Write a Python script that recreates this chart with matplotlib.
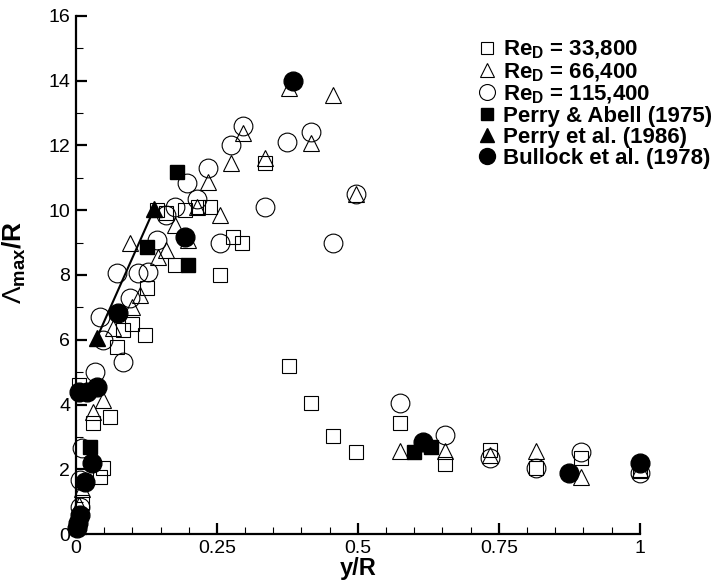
import numpy as np
import matplotlib
matplotlib.use("Agg")
import matplotlib.pyplot as plt
from matplotlib.ticker import MultipleLocator, FixedFormatter, FixedLocator

plt.rcParams['font.family'] = ['Liberation Sans', 'DejaVu Sans']
plt.rcParams['mathtext.fontset'] = 'custom'
plt.rcParams['mathtext.rm'] = 'Liberation Sans'
plt.rcParams['mathtext.bf'] = 'Liberation Sans:bold'
plt.rcParams['mathtext.it'] = 'Liberation Sans:italic'

# ---- data ----
# Re_D = 33,800 (open squares)
re1_x = [0.005, 0.01, 0.03, 0.043, 0.048, 0.06, 0.072, 0.084, 0.099, 0.123, 0.126,
         0.144, 0.16, 0.176, 0.194, 0.217, 0.238, 0.256, 0.279, 0.295, 0.336, 0.377,
         0.416, 0.455, 0.496, 0.575, 0.655, 0.735, 0.815, 0.895, 1.0]
re1_y = [4.6, 1.0, 3.42, 1.76, 2.03, 3.6, 5.78, 6.3, 6.5, 6.14, 7.6,
         10.0, 9.9, 8.3, 10.0, 10.1, 10.1, 8.0, 9.17, 9.0, 11.45, 5.2,
         4.04, 3.02, 2.53, 3.43, 2.16, 2.6, 2.04, 2.35, 1.95]

# Re_D = 66,400 (open triangles)
re2_x = [0.005, 0.01, 0.03, 0.048, 0.066, 0.096, 0.1, 0.114, 0.146, 0.16, 0.176,
         0.199, 0.215, 0.234, 0.256, 0.275, 0.296, 0.336, 0.377, 0.416, 0.455,
         0.496, 0.575, 0.655, 0.735, 0.815, 0.895, 1.0]
re2_y = [0.9, 1.4, 3.77, 4.13, 6.35, 8.98, 7.0, 7.38, 8.55, 8.77, 9.54,
         9.07, 10.1, 10.86, 9.85, 11.45, 12.37, 11.6, 13.76, 12.06, 13.55,
         10.5, 2.55, 2.55, 2.45, 2.55, 1.76, 2.0]

# Re_D = 115,400 (open circles)
re3_x = [0.007, 0.007, 0.01, 0.034, 0.043, 0.048, 0.073, 0.084, 0.096, 0.11, 0.128,
         0.144, 0.16, 0.176, 0.197, 0.215, 0.234, 0.256, 0.275, 0.296, 0.336,
         0.375, 0.416, 0.456, 0.496, 0.575, 0.655, 0.735, 0.815, 0.895, 1.0]
re3_y = [0.83, 1.67, 2.65, 5.0, 6.7, 6.0, 8.05, 5.3, 7.28, 8.05, 8.1,
         9.07, 9.85, 10.1, 10.83, 10.35, 11.3, 9.0, 12.0, 12.6, 10.1,
         12.1, 12.4, 9.0, 10.5, 4.04, 3.05, 2.35, 2.04, 2.53, 1.9]

# Perry & Abell (1975)
pa_x = [0.025, 0.126, 0.179, 0.199, 0.6, 0.629]
pa_y = [2.7, 8.86, 11.17, 8.3, 2.53, 2.69]

# Perry et al. (1986)
pe_x = [0.037, 0.139]
pe_y = [6.05, 10.05]

# Bullock et al. (1978)
bu_x = [0.002, 0.004, 0.007, 0.016, 0.028, 0.005, 0.02, 0.037, 0.075, 0.194,
        0.385, 0.615, 0.874, 1.0]
bu_y = [0.2, 0.35, 0.6, 1.6, 2.19, 4.4, 4.4, 4.54, 6.82, 9.17,
        14.0, 2.84, 1.88, 2.19]

fig = plt.figure(figsize=(7.23, 5.85), dpi=100)
ax = fig.add_axes([0.105, 0.087, 0.78, 0.886])

ew = 0.8
ax.plot(re1_x, re1_y, ls='none', marker='s', ms=9.5, mfc='none', mec='black', mew=ew,
        clip_on=False, label=r'$\mathbf{Re_D}$ = 33,800')
ax.plot(re2_x, re2_y, ls='none', marker='^', ms=11.5, mfc='none', mec='black', mew=ew,
        clip_on=False, label=r'$\mathbf{Re_D}$ = 66,400')
ax.plot(re3_x, re3_y, ls='none', marker='o', ms=13.5, mfc='none', mec='black', mew=ew,
        clip_on=False, label=r'$\mathbf{Re_D}$ = 115,400')
ax.plot(pa_x, pa_y, ls='none', marker='s', ms=9.5, color='black',
        clip_on=False, label='Perry & Abell (1975)')
ax.plot(pe_x, pe_y, ls='-', lw=1.5, color='black', zorder=3)
ax.plot(pe_x, pe_y, ls='none', marker='^', ms=11.5, color='black',
        clip_on=False, label='Perry et al. (1986)', zorder=4)
ax.plot(bu_x, bu_y, ls='none', marker='o', ms=13.5, color='black',
        clip_on=False, label='Bullock et al. (1978)', zorder=4)

ax.set_xlim(0, 1)
ax.set_ylim(0, 16)
ax.spines['top'].set_visible(False)
ax.spines['right'].set_visible(False)
ax.spines['left'].set_linewidth(1.6)
ax.spines['bottom'].set_linewidth(1.6)

ax.xaxis.set_major_locator(FixedLocator([0, 0.25, 0.5, 0.75, 1.0]))
ax.xaxis.set_major_formatter(FixedFormatter(['0', '0.25', '0.5', '0.75', '1']))
ax.xaxis.set_minor_locator(MultipleLocator(0.05))
ax.yaxis.set_major_locator(MultipleLocator(2))
ax.yaxis.set_minor_locator(MultipleLocator(1))
ax.tick_params(which='major', direction='in', length=8, width=1.6, labelsize=14, pad=4)
ax.tick_params(which='minor', direction='in', length=5, width=0.8)

ax.set_xlabel('y/R', fontsize=17, fontweight='bold')
ax.xaxis.set_label_coords(0.5, -0.045)
ax.set_ylabel(r'$\Lambda_\mathbf{max}$/R', fontsize=19, fontweight='bold')
ax.yaxis.set_label_coords(-0.085, 0.525)

leg = ax.legend(loc='upper left', bbox_to_anchor=(0.695, 0.972), frameon=False,
                prop={'weight': 'bold', 'size': 16}, handletextpad=0.3,
                handlelength=0.9, labelspacing=0.0, markerscale=0.85,
                borderaxespad=0)

fig.savefig('out.png', dpi=100)
